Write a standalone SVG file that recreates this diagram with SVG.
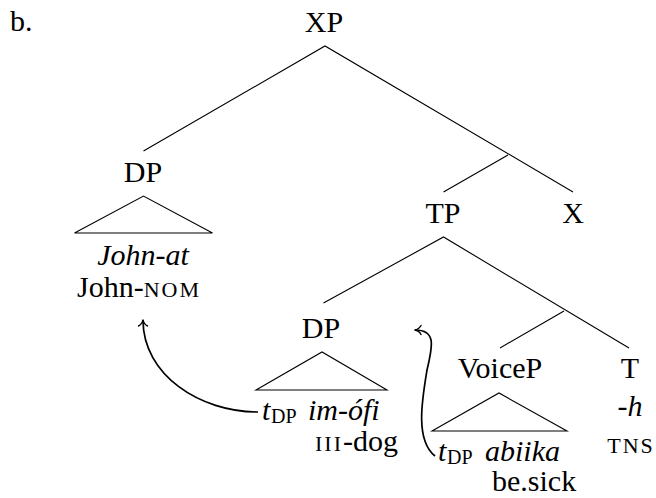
<svg xmlns="http://www.w3.org/2000/svg" width="656" height="498" viewBox="0 0 656 498">
<defs>
<marker id="ah" markerUnits="userSpaceOnUse" markerWidth="14" markerHeight="14" viewBox="-7 -7 14 14" refX="0" refY="0" orient="auto" overflow="visible">
<path d="M -6 -4.5 C -4.5 -1.5 -1.5 -0.3 0.5 0 C -1.5 0.3 -4.5 1.5 -6 4.5" stroke="#000" stroke-width="1.4" fill="none" stroke-linecap="round"/>
</marker>
</defs>
<rect width="656" height="498" fill="#fff"/>
<g id="connectors" stroke="#000" fill="none">
<path stroke-width="1.1" d="M 143.5 151 L 325 46 L 573 192 M 508 155 L 443.5 192"/>
<path stroke-width="1.1" d="M 323.5 303 L 443.5 237 L 629 348 M 564 311 L 500 348"/>
<path stroke-width="1.7" marker-end="url(#ah)" d="M 258 412 C 200 412, 143 375, 143 320"/>
<path stroke-width="1.7" marker-end="url(#ah)" d="M 435 456 C 415 440, 422 400, 427 370 C 433 345, 436 330, 415 330"/>
</g>
<g font-family="Liberation Serif" font-size="30" fill="#000">
<text x="10" y="31">b.</text>
<g id="XP"><text text-anchor="middle" x="324" y="32">XP</text></g>
<g id="DP1">
<text text-anchor="middle" x="143" y="182">DP</text>
<path stroke="#000" stroke-width="1.1" fill="none" d="M 74.5 233 L 143.5 196 L 212.5 233 Z"/>
<text text-anchor="middle" font-style="italic" x="143" y="265">John-at</text>
<text x="77" y="297">John-<tspan font-size="22" letter-spacing="2">NOM</tspan></text>
</g>
<g id="TP"><text text-anchor="middle" x="443" y="223">TP</text></g>
<g id="X"><text text-anchor="middle" x="573" y="223">X</text></g>
<g id="DP2">
<text text-anchor="middle" x="321" y="338">DP</text>
<path stroke="#000" stroke-width="1.1" fill="none" d="M 256 390 L 322 352 L 387 390 Z"/>
<text font-style="italic" x="262" y="420">t</text>
<text font-size="20" x="271" y="423">DP</text>
<text font-style="italic" x="308" y="420">im-&#243;fi</text>
<text x="315" y="451"><tspan font-size="22" letter-spacing="2">III</tspan>-dog</text>
</g>
<g id="VoiceP">
<text text-anchor="middle" x="500" y="378">VoiceP</text>
<path stroke="#000" stroke-width="1.1" fill="none" d="M 432 431 L 499 393 L 567 431 Z"/>
<text font-style="italic" x="438" y="461">t</text>
<text font-size="20" x="447" y="464">DP</text>
<text font-style="italic" x="485" y="461">abiika</text>
<text x="492" y="491">be.sick</text>
</g>
<g id="T">
<text text-anchor="middle" x="630" y="378">T</text>
<text text-anchor="middle" font-style="italic" x="630" y="416">-h</text>
<text text-anchor="middle" font-size="22" letter-spacing="2" x="631" y="453">TNS</text>
</g>
</g>
</svg>
